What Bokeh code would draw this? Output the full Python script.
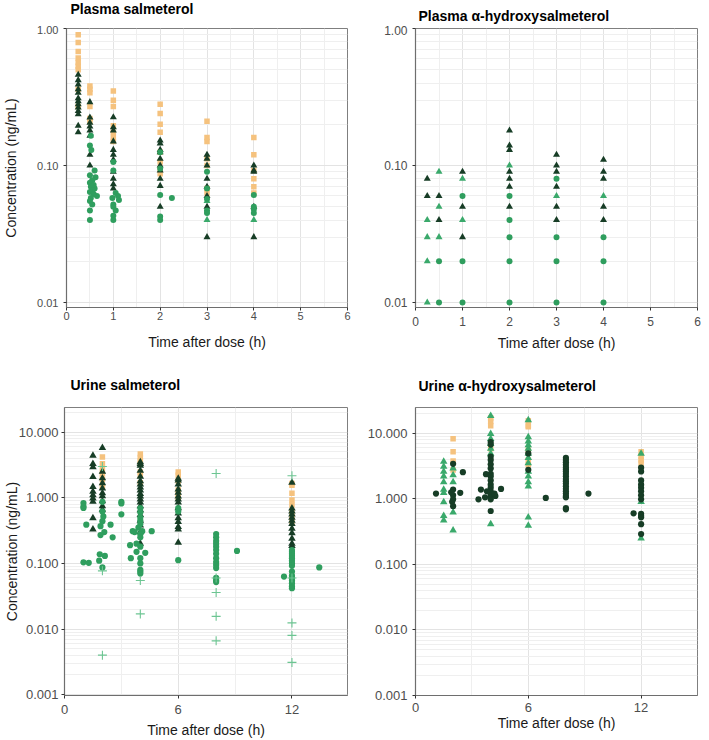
from bokeh.plotting import figure
from bokeh.layouts import column, row
from bokeh.models import ColumnDataSource, FixedTicker, NumeralTickFormatter, Range1d
from bokeh.core.properties import value
from bokeh.embed import file_html
from bokeh.resources import INLINE

# ---------------- Plasma salmeterol ----------------
ps_times = [0.25, 0.5, 1, 2, 3, 4]
ps_square = [
    [0.90, 0.79, 0.68, 0.61, 0.565, 0.53, 0.50, 0.36, 0.27],
    [0.38, 0.36, 0.34, 0.27, 0.22, 0.21],
    [0.35, 0.30, 0.27, 0.195, 0.175, 0.16, 0.15],
    [0.28, 0.24, 0.20, 0.175, 0.125, 0.106, 0.095, 0.087],
    [0.21, 0.16, 0.15, 0.112, 0.10, 0.068, 0.063],
    [0.16, 0.12, 0.092, 0.08, 0.07, 0.063],
]
ps_dark_tri = [
    [0.46, 0.42, 0.39, 0.36, 0.34, 0.31, 0.295, 0.28, 0.265, 0.25, 0.237, 0.195, 0.175],
    [0.29, 0.224, 0.205, 0.193, 0.18, 0.165, 0.12, 0.10],
    [0.225, 0.19, 0.18, 0.15, 0.13, 0.12, 0.11, 0.09, 0.080, 0.073, 0.068],
    [0.152, 0.145, 0.13, 0.125, 0.112, 0.10, 0.092, 0.080, 0.071, 0.050],
    [0.12, 0.112, 0.10, 0.08, 0.07, 0.06, 0.05, 0.030],
    [0.10, 0.092, 0.09, 0.05, 0.030],
]
ps_green_tri_t = [3, 3, 4]
ps_green_tri_c = [0.040, 0.055, 0.040]
ps_circle_t = [0.52, 0.5, 0.53, 0.6, 0.5, 0.62, 0.55, 0.5, 0.58, 0.52, 0.6, 0.55, 0.5, 0.58, 0.65, 0.52, 0.5, 0.55, 0.5, 0.5,
               1.0, 1.0, 1.05, 1.1, 0.98, 1.12, 1.0, 1.0, 1.05, 1.0, 1.0,
               2.0, 2.0, 2.0, 2.25, 2.0, 2.0,
               3.0, 3.0, 3.0, 3.0, 3.0,
               4.0, 4.0, 4.0, 4.0]
ps_circle_c = [0.165, 0.14, 0.13, 0.092, 0.085, 0.082, 0.078, 0.075, 0.072, 0.07, 0.068, 0.066, 0.064, 0.062, 0.06, 0.058, 0.055, 0.052, 0.047, 0.040,
               0.106, 0.092, 0.063, 0.06, 0.058, 0.056, 0.052, 0.05, 0.047, 0.043, 0.040,
               0.125, 0.095, 0.061, 0.058, 0.0425, 0.040,
               0.09, 0.068, 0.057, 0.047, 0.045,
               0.061, 0.050, 0.048, 0.045]

# ---------------- Plasma alpha-hydroxysalmeterol ----------------
ph_times = [0.25, 0.5, 1, 2, 3, 4]
ph_dark_tri = [
    [0.08, 0.06],
    [0.06, 0.04],
    [0.09, 0.05, 0.03],
    [0.18, 0.14, 0.13, 0.09, 0.08, 0.07, 0.05],
    [0.12, 0.10, 0.09, 0.07, 0.05, 0.04],
    [0.11, 0.09, 0.08, 0.05, 0.04],
]
ph_green_tri = [
    [0.04, 0.03, 0.02, 0.01],
    [0.09, 0.05, 0.03],
    [0.08, 0.04],
    [0.10],
    [0.06],
    [0.06],
]
ph_circle = [
    [],
    [0.02, 0.01],
    [0.06, 0.02, 0.01],
    [0.06, 0.04, 0.03, 0.02, 0.01],
    [0.08, 0.03, 0.02, 0.01],
    [0.03, 0.02, 0.01],
]

# ---------------- Urine salmeterol ----------------
us_sq_times = [2, 4, 6, 12]
us_square = [
    [4.2, 3.3, 2.8, 2.3, 1.9, 1.5],
    [4.67, 4.1, 3.7, 3.3, 2.48, 2.2, 1.7],
    [2.48, 2.2, 1.8, 1.31, 1.15, 1.0],
    [1.65, 1.55, 1.17, 0.93, 0.78, 0.62, 0.52, 0.44],
]
us_tri_times = [1.5, 2, 4, 6, 12]
us_dark_tri = [
    [4.4, 3.3, 2.94, 2.09, 1.47, 1.24, 1.10, 0.98, 0.875, 0.49, 0.33],
    [5.8, 2.5, 1.99, 1.67, 1.4, 1.18, 1.06, 0.89, 0.75, 0.66],
    [3.5, 3.3, 3.1, 2.6, 2.1, 1.8, 1.6, 1.45, 1.3, 1.15, 1.05, 0.95, 0.85, 0.75, 0.65, 0.55, 0.45, 0.38, 0.3, 0.2],
    [1.96, 1.85, 1.6, 1.35, 1.2, 1.05, 0.95, 0.85, 0.7, 0.58, 0.49, 0.43, 0.36, 0.33, 0.207],
    [1.7, 0.69, 0.62, 0.56, 0.5, 0.45, 0.4, 0.34, 0.29, 0.24, 0.2, 0.185],
]
us_circle_t = [1.0, 1.0, 1.0, 1.0, 1.28, 1.15, 1.9, 1.86, 1.83, 2.13, 2.1, 2.43, 2.54, 1.9, 2.05, 2.0, 2.0, 2.0, 2.0,
               3.0, 3.0, 3.0,
               4.0, 4.0, 4.0, 4.0, 4.0, 3.9, 4.1, 3.7, 4.0, 4.0, 3.8, 3.46, 4.0, 3.8, 4.26, 3.5, 4.0, 4.0, 4.0, 4.0, 4.0, 4.6, 3.6,
               6.0, 6.0, 6.0,
               8.0, 8.0, 8.0, 8.0, 8.0, 8.0, 8.0, 8.0, 8.0, 8.0, 8.0, 8.0, 8.0, 8.0, 9.1,
               12.0, 12.0, 12.0, 12.0, 12.0, 12.0, 12.0, 12.0, 12.0, 12.0, 12.0, 12.0, 12.0, 12.0, 12.0, 11.58, 13.44]
us_circle_c = [0.83, 0.74, 0.70, 0.104, 0.102, 0.39, 0.37, 0.138, 0.11, 0.13, 0.30, 0.39, 0.25, 0.27, 0.52, 0.62, 0.87, 0.44, 0.087,
               0.87, 0.82, 0.56,
               0.7, 0.6, 0.5, 0.45, 0.4, 0.35, 0.31, 0.3, 0.28, 0.25, 0.2, 0.19, 0.18, 0.15, 0.145, 0.12, 0.12, 0.1, 0.08, 0.075, 0.07, 0.31, 0.31,
               0.7, 0.62, 0.112,
               0.28, 0.25, 0.22, 0.2, 0.18, 0.16, 0.14, 0.12, 0.105, 0.095, 0.085, 0.06, 0.055, 0.052, 0.155,
               0.16, 0.15, 0.14, 0.13, 0.12, 0.11, 0.10, 0.092, 0.075, 0.065, 0.06, 0.055, 0.05, 0.045, 0.042, 0.063, 0.087]
us_plus_t = [2, 2, 2, 4, 4, 8, 8, 8, 8, 8, 12, 12, 12, 12, 12]
us_plus_c = [3.0, 0.077, 0.004, 0.055, 0.017, 2.35, 0.06, 0.036, 0.0156, 0.0066, 2.17, 0.06, 0.0124, 0.008, 0.0031]

# ---------------- Urine alpha-hydroxysalmeterol ----------------
uh_sq_times = [2, 4, 6, 12]
uh_square = [
    [8.2, 5.2, 3.76, 2.75],
    [17, 15, 13, 5.8],
    [15.5, 13, 12.5, 5.5, 3.9, 3.3],
    [5.2, 4.4, 3.9, 3.5],
]
uh_tri_times = [1.5, 2, 4, 6, 12]
uh_green_tri = [
    [3.67, 3.1, 2.6, 2.2, 1.8, 1.38, 1.23, 0.89, 0.55, 0.47],
    [2.9, 2.3, 1.8, 0.62, 0.33],
    [18.4, 9.8, 8.2, 6.9, 5.8, 4.9, 0.41],
    [15.8, 8.7, 7.5, 6.6, 5.8, 4.9, 4.2, 3.5, 2.6, 2.2, 1.8, 1.55, 0.52, 0.39],
    [4.9, 0.9, 0.25],
]
uh_circle_t = [1.09, 2.0, 2.0, 2.0, 2.0, 1.95, 2.0, 2.52, 2.38, 1.9,
               4, 4, 4, 4, 4, 4, 4, 4, 4, 4, 4, 4, 4, 4, 4, 4, 3.48, 3.35, 3.75, 4.55, 4.25, 3.8, 3.7, 4.2,
               6, 6, 6.93,
               8, 8, 8, 8, 8, 8, 8, 8, 8, 8, 8, 8, 8, 8, 8, 8, 8, 8, 8, 8, 9.2,
               12, 12, 12, 12, 12, 12, 12, 12, 12, 12, 12, 12, 12, 11.6]
uh_circle_c = [1.2, 3.4, 1.38, 1.13, 0.98, 0.9, 0.77, 2.54, 1.23, 1.25,
               7.3, 6.7, 4.4, 3.9, 3.35, 2.9, 2.4, 2.2, 1.9, 1.64, 1.47, 1.3, 1.16, 1.05, 0.98, 0.65, 1.38, 0.98, 2.37, 1.41, 1.1, 1.3, 1.05, 1.2,
               4.9, 2.76, 1.03,
               4.2, 3.9, 3.6, 3.3, 3.0, 2.8, 2.6, 2.4, 2.2, 2.0, 1.85, 1.7, 1.55, 1.42, 1.3, 1.2, 1.1, 1.05, 0.72, 0.69, 1.2,
               2.98, 2.6, 1.9, 1.64, 1.47, 1.3, 1.13, 0.98, 0.59, 0.55, 0.52, 0.41, 0.29, 0.6]

titles = ["Plasma salmeterol", "Plasma α-hydroxysalmeterol", "Urine salmeterol", "Urine α-hydroxysalmeterol"]

# ---------------- styling ----------------
ORANGE = "#F5C27E"
DARK = "#173D26"
GREEN = "#2F9E5E"
GREEN_TRI = "#3AA96B"
PLUS = "#6CC592"
FONT = "Liberation Sans"


def flatten(times, groups):
    xs, ys = [], []
    for t, g in zip(times, groups):
        for c in g:
            xs.append(t)
            ys.append(c)
    return xs, ys


def log_minors(lo_exp, hi_exp, top):
    out = []
    for e in range(lo_exp, hi_exp + 1):
        for m in range(2, 10):
            v = m * 10.0 ** e
            if v < top:
                out.append(v)
    return out


def title_strip(text, w, h, left, right, dx, dy_from_top):
    fw = w - left - right
    t = figure(width=w, height=h, x_range=Range1d(0, fw), y_range=Range1d(0, h),
               x_axis_type=None, y_axis_type=None, output_backend="svg", toolbar_location=None,
               min_border_left=left, min_border_right=right, min_border_top=0, min_border_bottom=0,
               background_fill_color="white", border_fill_color="white")
    t.outline_line_color = None
    t.xgrid.visible = False
    t.ygrid.visible = False
    t.text(x=[dx], y=[h - dy_from_top], text=[text], text_font=value(FONT), text_font_size=value("14px"),
           text_font_style="bold", text_color="#000000", text_baseline="middle", text_align="left")
    return t


def panel(w, h, left, right, top, bottom, x_end, y_lo, y_hi, xticks, xminor, yticks, yminor,
          yfmt, tick_fs, ylabel, ylabel_standoff, y_tick_standoff, x_tick_standoff, xlabel_standoff):
    p = figure(width=w, height=h, x_range=Range1d(0, x_end), y_range=Range1d(y_lo, y_hi),
               y_axis_type="log", output_backend="svg", toolbar_location=None,
               min_border_left=left, min_border_right=right, min_border_top=top, min_border_bottom=bottom,
               background_fill_color="white", border_fill_color="white")
    p.outline_line_color = "#7f7f7f"
    p.outline_line_width = 1
    p.xaxis.ticker = FixedTicker(ticks=xticks, minor_ticks=xminor)
    p.yaxis.ticker = FixedTicker(ticks=yticks, minor_ticks=yminor)
    p.yaxis.formatter = NumeralTickFormatter(format=yfmt)
    for ax in (p.xaxis[0], p.yaxis[0]):
        ax.axis_line_color = "#6e6e6e"
        ax.axis_line_width = 1.2
        ax.major_tick_line_color = "#333333"
        ax.major_tick_out = 3
        ax.major_tick_in = 0
        ax.minor_tick_line_color = None
        ax.major_label_text_font = FONT
        ax.major_label_text_font_size = tick_fs
        ax.major_label_text_color = "#4d4d4d"
        ax.axis_label_text_font = FONT
        ax.axis_label_text_font_size = "14px"
        ax.axis_label_text_font_style = "normal"
        ax.axis_label_text_color = "#1a1a1a"
    p.xaxis.axis_label = "Time after dose (h)"
    p.xaxis.major_label_standoff = x_tick_standoff
    p.xaxis.axis_label_standoff = xlabel_standoff
    p.yaxis.major_label_standoff = y_tick_standoff
    if ylabel:
        p.yaxis.axis_label = ylabel
        p.yaxis.axis_label_standoff = ylabel_standoff
    for g in (p.xgrid[0], p.ygrid[0]):
        g.grid_line_color = "#e3e3e3"
        g.grid_line_width = 1
        g.minor_grid_line_color = "#efefef"
        g.minor_grid_line_width = 1
    return p


def pts(p, xs, ys, marker, color, size):
    src = ColumnDataSource(dict(x=xs, y=ys))
    if marker == "cross":
        p.scatter("x", "y", source=src, marker="cross", size=size, line_color=color, line_width=1.1)
    else:
        p.scatter("x", "y", source=src, marker=marker, size=size, fill_color=color, line_color=color, line_width=0)


half_steps = [0.5, 1.5, 2.5, 3.5, 4.5, 5.5]

# Title strips
t1 = title_strip(titles[0], 355, 25, 64, 8, 6, 8)
t2 = title_strip(titles[1], 354, 25, 60, 12, 3, 15)
t3 = title_strip(titles[2], 355, 27, 64, 8, 6, 14.5)
t4 = title_strip(titles[3], 354, 27, 60, 12, 3, 15.5)

# Panel 1
p1 = panel(355, 345, 64, 8, 3, 63, 6, 0.0092, 1.0,
           [0, 1, 2, 3, 4, 5, 6], half_steps, [0.01, 0.1, 1.0], log_minors(-2, -1, 1.0),
           "0.00", "11px", "Concentration (ng/mL)", 15, 4, 0, 11)
x, y = flatten(ps_times, ps_square); pts(p1, x, y, "square", ORANGE, 5.5)
x, y = flatten(ps_times, ps_dark_tri); pts(p1, x, y, "triangle", DARK, 7)
pts(p1, ps_green_tri_t, ps_green_tri_c, "triangle", GREEN_TRI, 7)
pts(p1, ps_circle_t, ps_circle_c, "circle", GREEN, 6)

# Panel 2
p2 = panel(354, 345, 60, 12, 3, 63, 6, 0.0092, 1.0,
           [0, 1, 2, 3, 4, 5, 6], half_steps, [0.01, 0.1, 1.0], log_minors(-2, -1, 1.0),
           "0.00", "12px", None, 0, 4, 5, 6)
x, y = flatten(ph_times, ph_dark_tri); pts(p2, x, y, "triangle", DARK, 7)
x, y = flatten(ph_times, ph_green_tri); pts(p2, x, y, "triangle", GREEN_TRI, 7)
x, y = flatten(ph_times, ph_circle); pts(p2, x, y, "circle", GREEN, 6)

# Panel 3
p3 = panel(355, 343, 64, 8, 10, 42, 14.93, 0.00097, 23.8,
           [0, 6, 12], [3, 9], [0.001, 0.01, 0.1, 1.0, 10.0], log_minors(-3, 1, 23.8),
           "0.000", "13px", "Concentration (ng/mL)", -4, 2, 5, 5)
x, y = flatten(us_sq_times, us_square); pts(p3, x, y, "square", ORANGE, 5.5)
x, y = flatten(us_tri_times, us_dark_tri); pts(p3, x, y, "triangle", DARK, 7.5)
pts(p3, us_circle_t, us_circle_c, "circle", GREEN, 6.2)
pts(p3, us_plus_t, us_plus_c, "cross", PLUS, 9)

# Panel 4
p4 = panel(354, 343, 60, 12, 10, 42, 15.0, 0.001, 24.6,
           [0, 6, 12], [3, 9], [0.001, 0.01, 0.1, 1.0, 10.0], log_minors(-3, 1, 24.6),
           "0.000", "13px", None, 0, 4, 3, 0)
x, y = flatten(uh_sq_times, uh_square); pts(p4, x, y, "square", ORANGE, 5.5)
x, y = flatten(uh_tri_times, uh_green_tri); pts(p4, x, y, "triangle", GREEN_TRI, 7.5)
pts(p4, uh_circle_t, uh_circle_c, "circle", DARK, 6.2)

layout = column(row(t1, t2), row(p1, p2), row(t3, t4), row(p3, p4))
open("out.html", "w").write(file_html(layout, INLINE))
